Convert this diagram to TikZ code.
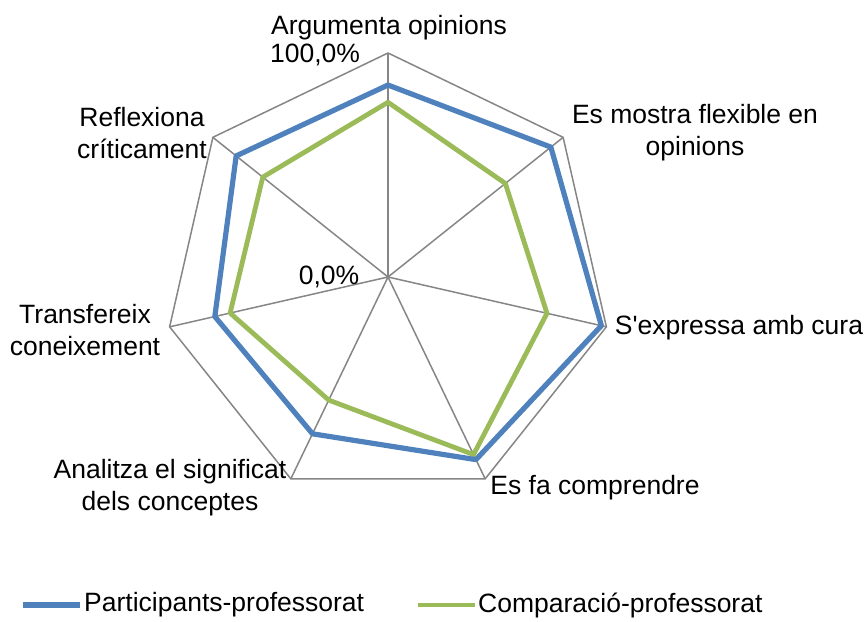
\documentclass[tikz,border=0pt]{standalone}
\usepackage{fontspec}
\setmainfont{Liberation Sans}[Ligatures=TeXOff]
\usetikzlibrary{calc}
\definecolor{gridgray}{HTML}{868686}
\definecolor{serblue}{HTML}{4F81BD}
\definecolor{sergreen}{HTML}{9BBB59}
\tikzset{
  gridline/.style={draw=gridgray, line width=1.5pt},
  bluepath/.style={draw=serblue, line width=5.2pt, line join=round},
  greenpath/.style={draw=sergreen, line width=4.8pt, line join=round},
  lbl/.style={font=\fontsize{26.5}{32}\selectfont, align=center, inner sep=0pt, text=black},
  leglbl/.style={font=\fontsize{26.5}{32}\selectfont, anchor=west, inner sep=0pt, text=black},
}
\begin{document}
\begin{tikzpicture}[x=1pt,y=1pt]
\useasboundingbox (0,0) rectangle (866,621);
\coordinate (C) at (388,344);
% vertices
\foreach \k in {0,...,6} {
  \coordinate (V\k) at ($(C)+({90-\k*360/7}:224)$);
}
% blue values
\foreach \k/\v in {0/0.857,1/0.93,2/0.977,3/0.905,4/0.777,5/0.793,6/0.867} {
  \coordinate (B\k) at ($(C)+({90-\k*360/7}:{224*\v})$);
}
% green values
\foreach \k/\v in {0/0.78,1/0.67,2/0.728,3/0.88,4/0.61,5/0.723,6/0.715} {
  \coordinate (G\k) at ($(C)+({90-\k*360/7}:{224*\v})$);
}
% grid
\foreach \k in {0,...,6} { \draw[gridline] (C) -- (V\k); }
\draw[gridline] (V0) -- (V1) -- (V2) -- (V3) -- (V4) -- (V5) -- (V6) -- cycle;
% series
\draw[greenpath] (G0) -- (G1) -- (G2) -- (G3) -- (G4) -- (G5) -- (G6) -- cycle;
\draw[bluepath] (B0) -- (B1) -- (B2) -- (B3) -- (B4) -- (B5) -- (B6) -- cycle;
% labels
\node[lbl] (l0) at (389,593) {Argumenta opinions};
\node[lbl] (l1) at (695,488.5) {Es mostra flexible en\\opinions};
\node[lbl] (l2) at (739,293) {S'expressa amb cura};
\node[lbl] (l3) at (595,133) {Es fa comprendre};
\node[lbl] (l4) at (170,133.5) {Analitza el significat\\dels conceptes};
\node[lbl] (l5) at (85,291) {Transfereix\\coneixement};
\node[lbl] (l6) at (142,487.5) {Reflexiona\\críticament};
\node[lbl] (a100) at (315,566) {100,0\%};
\node[lbl] (a0) at (329,344) {0,0\%};
% legend
\coordinate (lb1) at (23,16);
\coordinate (lb2) at (80,16);
\draw[draw=serblue, line width=5.2pt] (lb1) -- (lb2);
\node[leglbl] (tb) at (84,16) {Participants-professorat};
\coordinate (lg1) at (418,16);
\coordinate (lg2) at (475,16);
\draw[draw=sergreen, line width=4.8pt] (lg1) -- (lg2);
\node[leglbl] (tg) at (478,16) {Comparació-professorat};
\end{tikzpicture}
\end{document}
